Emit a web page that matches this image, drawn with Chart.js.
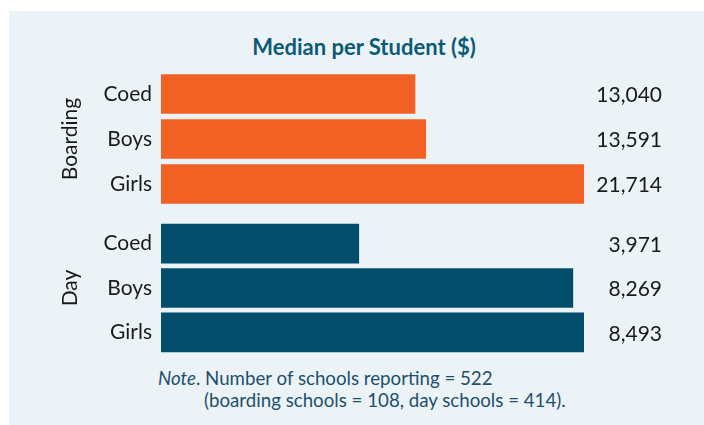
<!DOCTYPE html>
<html>
<head>
<meta charset="utf-8">
<script src="https://cdn.jsdelivr.net/npm/chart.js@4/dist/chart.umd.min.js"></script>
<style>
  html, body { margin: 0; padding: 0; background: #ffffff; }
  #page { position: relative; width: 704px; height: 425px; overflow: hidden; font-family: Lato, "Open Sans", sans-serif; }
  #panel { position: absolute; left: 9px; top: 11px; width: 695px; height: 414px; background: #ebf3f7; }
  #title { position: absolute; left: 0; width: 728px; top: 33px; text-align: center; font-weight: bold; font-size: 22px; color: #0b5a76; }
  canvas { position: absolute; left: 0; }
  #chartA { top: 60px; }
  #chartB { top: 215px; }
  #note { position: absolute; left: 158px; top: 367px; font-size: 18.7px; line-height: 22px; color: #1d4f6b; white-space: nowrap; }
  #note .l2 { padding-left: 46px; }
</style>
</head>
<body>
<div id="page">
  <div id="panel"></div>
  <div id="title">Median per Student ($)</div>
  <canvas id="chartA" width="704" height="150"></canvas>
  <canvas id="chartB" width="704" height="145"></canvas>
  <div id="note"><i>Note</i>. Number of schools reporting = 522<br><span class="l2">(boarding schools = 108, day schools = 414).</span></div>
</div>
<script>
// School types shown in each group
const categories = ['Coed', 'Boys', 'Girls'];
// Median spending per student ($)
const boardingValues = [13040, 13591, 21714];
const dayValues = [3971, 8269, 8493];
const groupNames = ['Boarding', 'Day'];

const ORANGE = '#f26023';
const TEAL = '#034f6b';
const FONT = 'Lato, "Open Sans", sans-serif';

// Prints each bar's value right-aligned in the column to the right of the plot
const valueLabels = {
  id: 'valueLabels',
  afterDatasetsDraw(chart) {
    const ctx = chart.ctx;
    const meta = chart.getDatasetMeta(0);
    const data = chart.data.datasets[0].data;
    ctx.save();
    ctx.font = '21px ' + FONT;
    ctx.fillStyle = '#1a1a1a';
    ctx.textAlign = 'right';
    ctx.textBaseline = 'middle';
    meta.data.forEach((bar, i) => {
      ctx.fillText(data[i].toLocaleString('en-US'), 662, bar.y + 1.5);
    });
    ctx.restore();
  }
};

function makeChart(canvasId, groupName, values, color, padTop, padBottom) {
  return new Chart(document.getElementById(canvasId), {
    type: 'bar',
    data: {
      labels: categories,
      datasets: [{ data: values, backgroundColor: color, barThickness: 39 }]
    },
    options: {
      indexAxis: 'y',
      responsive: false,
      animation: false,
      layout: { padding: { left: 58, right: 120, top: padTop, bottom: padBottom } },
      plugins: { legend: { display: false }, tooltip: { enabled: false } },
      scales: {
        x: { display: false, min: 0, max: Math.max(...values) },
        y: {
          grid: { display: false, drawTicks: false },
          border: { display: false },
          ticks: { color: '#1a1a1a', font: { family: FONT, size: 21 }, padding: 9 },
          title: { display: true, text: groupName, color: '#1a1a1a', font: { family: FONT, size: 21 }, padding: 0 },
          afterFit(scale) {
            // fixed label column; the plot itself sets the vertical extent
            scale.width = 103;
            scale.paddingTop = 0;
            scale.paddingBottom = 0;
          }
        }
      }
    },
    plugins: [valueLabels]
  });
}

makeChart('chartA', groupNames[0], boardingValues, ORANGE, 11.5, 3.5);
makeChart('chartB', groupNames[1], dayValues, TEAL, 6.5, 5.5);
</script>
</body>
</html>
